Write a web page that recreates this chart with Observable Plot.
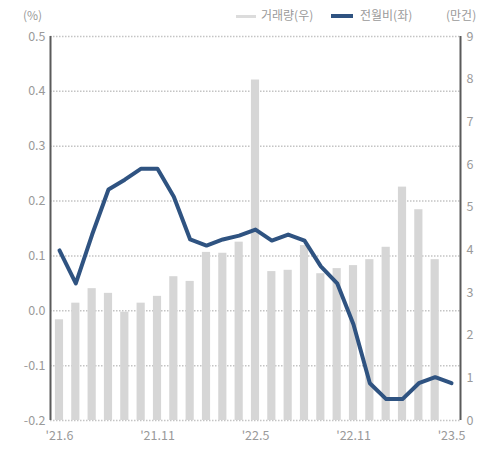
<!DOCTYPE html>
<html>
<head>
<meta charset="utf-8">
<script src="https://cdn.jsdelivr.net/npm/d3@7"></script>
<script src="https://cdn.jsdelivr.net/npm/@observablehq/plot@0.6"></script>
<style>
  body { margin: 0; width: 481px; height: 455px; overflow: hidden; background: #fff; font-family: "Noto Sans CJK KR", "Noto Sans", sans-serif; }
  #wrap { position: relative; width: 481px; }
  #head { position: relative; height: 22px; color: #9a9a9a; font-size: 12px; }
  #head span { position: absolute; top: 7px; white-space: nowrap; line-height: 16px; }
  .sw { position: absolute; height: 0; }
</style>
</head>
<body>
<div id="wrap">
  <div id="head">
    <span style="left:23px">(%)</span>
    <div class="sw" style="left:236px; top:15px; width:20px; border-top:3px solid #dcdcdc;"></div>
    <span style="left:261px">거래량(우)</span>
    <div class="sw" style="left:331px; top:14px; width:22px; border-top:4px solid #2f5381;"></div>
    <span style="left:360px">전월비(좌)</span>
    <span style="left:446px">(만건)</span>
  </div>
  <div id="chart"></div>
</div>
<script>
// months: '21.5 ... '23.5 (25 months)
const months = ["21.5","21.6","21.7","21.8","21.9","21.10","21.11","21.12","22.1","22.2","22.3","22.4","22.5","22.6","22.7","22.8","22.9","22.10","22.11","22.12","23.1","23.2","23.3","23.4","23.5"];
// 거래량 (만건, right axis) — last month not available
const volume = [2.36,2.75,3.09,2.98,2.54,2.75,2.91,3.37,3.26,3.94,3.92,4.18,7.98,3.49,3.52,4.10,3.44,3.56,3.63,3.77,4.06,5.47,4.94,3.77,null];
// 전월비 (%, left axis)
const change = [0.110,0.050,0.139,0.221,0.239,0.259,0.259,0.208,0.130,0.119,0.130,0.137,0.148,0.128,0.139,0.128,0.081,0.050,-0.025,-0.132,-0.161,-0.161,-0.132,-0.121,-0.132];
const xTicks = [0, 6, 12, 18, 24];
const xTickLabels = ["'21.6", "'21.11", "'22.5", "'22.11", "'23.5"];
const leftTicks = [-0.2,-0.1,0,0.1,0.2,0.3,0.4,0.5];
const rightTicks = [0,1,2,3,4,5,6,7,8,9];

const yMin = -0.2, yMax = 0.5, rMax = 9;
const toLeft = v => yMin + v * (yMax - yMin) / rMax;

const volData = months.map((m, i) => ({i, m, v: volume[i]})).filter(d => d.v != null);
const lineData = months.map((m, i) => ({i, m, v: change[i]}));

const xDomain = [-0.55, 24.55];
const gray = "#9a9a9a";

const chart = Plot.plot({
  width: 481,
  height: 433,
  marginLeft: 50,
  marginRight: 21,
  marginTop: 14,
  marginBottom: 35,
  style: {fontFamily: "'Noto Sans CJK KR', 'Noto Sans', sans-serif", fontSize: "12.5px", color: gray, background: "#fff"},
  x: {domain: xDomain, axis: null},
  y: {domain: [yMin, yMax], axis: null},
  marks: [
    Plot.ruleY(leftTicks, {stroke: "#c4c4c4", strokeWidth: 1.5, strokeDasharray: "1.5,1.5"}),
    Plot.rectY(volData, {x1: d => d.i - 0.25, x2: d => d.i + 0.25, y1: () => yMin, y2: d => toLeft(d.v), fill: "#d6d6d6"}),
    Plot.line(lineData, {x: "i", y: "v", stroke: "#2f5381", strokeWidth: 4, strokeLinejoin: "round", strokeLinecap: "round"}),
    Plot.ruleX([xDomain[0], xDomain[1]], {y1: () => yMin, y2: () => yMax, stroke: "#5a5a5a", strokeWidth: 2}),
    Plot.axisY(leftTicks, {anchor: "left", label: null, tickSize: 0, tickPadding: 5, tickFormat: d => d.toFixed(1), fill: gray}),
    Plot.axisY(rightTicks.map(toLeft), {anchor: "right", label: null, tickSize: 0, tickPadding: 6, tickFormat: (d, k) => String(rightTicks[k]), fill: gray}),
    Plot.axisX(xTicks, {anchor: "bottom", label: null, tickSize: 0, tickPadding: 11, tickFormat: (d, k) => xTickLabels[k], fill: gray})
  ]
});
document.getElementById("chart").appendChild(chart);
</script>
</body>
</html>
